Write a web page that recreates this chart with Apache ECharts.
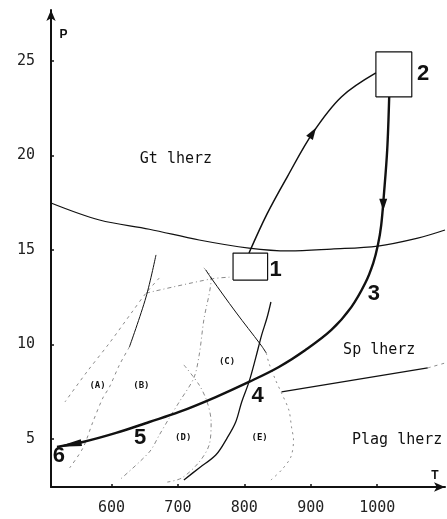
<!DOCTYPE html>
<html>
<head>
<meta charset="utf-8">
<script src="https://cdn.jsdelivr.net/npm/echarts@6/dist/echarts.min.js"></script>
<style>
  html, body { margin: 0; padding: 0; background: #fff; }
  #chart { width: 447px; height: 519px; }
</style>
</head>
<body>
<div id="chart"></div>
<script>
// P-T diagram, T along x, P along y
const tTicks = [600, 700, 800, 900, 1000];
const pTicks = [5, 10, 15, 20, 25];

// field boundaries (solid)
const gtSpBoundary = [[509, 17.49], [582, 16.59], [657, 16.1], [732, 15.53], [807, 15.1], [867, 14.95], [931, 15.05], [1001, 15.21], [1061, 15.63], [1102, 16.06]];
const spPlagBoundary = [[856, 7.49], [1076, 8.76]];
const spPlagDashed = [[1076, 8.76], [1102, 9.02]];

// path 1 -> 2 -> 3 ... 6
const pathUp = [[807, 14.84], [834, 16.9], [865, 18.9], [903, 21.2], [946, 23.1], [998, 24.37]];
const pathDown = [[1018, 23.1], [1015, 20.29], [1010, 17.91], [1006, 16.32], [1001, 15.26], [994, 14.31], [982, 13.25], [961, 11.98], [931, 10.77], [892, 9.71], [852, 8.81], [807, 8.02], [757, 7.22], [702, 6.43], [657, 5.9], [607, 5.32], [557, 4.84], [518, 4.58]];
const box1 = [[783, 13.41], [835, 13.41], [835, 14.84], [783, 14.84], [783, 13.41]];
const box2 = [[998, 23.1], [1052, 23.1], [1052, 25.48], [998, 25.48], [998, 23.1]];

// other solid curves
const curve4 = [[709, 2.83], [732, 3.47], [757, 4.15], [774, 5.05], [787, 5.9], [796, 6.96], [807, 8.02], [817, 9.28], [826, 10.5], [834, 11.4], [840, 12.25]];
const lineB = [[667, 14.74], [652, 12.51], [627, 9.87]];
const lineCright = [[742, 13.94], [750, 13.52], [787, 11.72], [825, 9.97], [833, 9.55]];

// dashed field limits (A)-(E)
const dashA = [[672, 13.52], [652, 12.72], [631, 11.72], [597, 10.08], [563, 8.55], [530, 6.96]];
const dashB = [[627, 9.87], [612, 8.92], [597, 7.75], [587, 7.17], [572, 5.9], [557, 4.52], [537, 3.47]];
const dashTop = [[652, 12.72], [750, 13.47], [781, 13.57]];
const dashCleft = [[739, 14.05], [750, 13.52], [739, 11.3], [732, 9.44], [724, 8.23], [702, 6.96], [687, 6.11], [672, 5.21], [657, 4.31], [612, 2.83]];
const dashDright = [[709, 8.92], [732, 7.86], [744, 6.96], [750, 5.9], [747, 4.68], [732, 3.78], [706, 2.94], [684, 2.72]];
const dashE = [[833, 9.55], [837, 9.02], [847, 8.12], [856, 7.43], [867, 6.53], [871, 5.63], [874, 4.95], [870, 4.05], [856, 3.36], [840, 2.83]];

// arrow heads: [T, P, rotation]
const arrows = [[903, 21.2, -33], [1009, 17.4, 180]];
const endArrow = [[537, 4.7, 100]];

// text
const fieldLabels = [['Gt lherz', 697, 19.81], ['Sp lherz', 1003, 9.71], ['Plag lherz', 1030, 4.95]];
const zoneLabels = [['(A)', 579, 7.8], ['(B)', 645, 7.8], ['(C)', 774, 9.07], ['(D)', 708, 5.05], ['(E)', 823, 5.05]];
const stepLabels = [['1', 847, 13.94], ['2', 1069, 24.31], ['3', 995, 12.67], ['4', 820, 7.27], ['5', 643, 5.05], ['6', 521, 4.1]];
const axisNames = [['P', 528, 26.37], ['T', 1087, 3.04]];

const chart = echarts.init(document.getElementById('chart'));

function solid(data, w) {
  return { type: 'line', data: data, smooth: 0.35, symbol: 'none', silent: true,
    lineStyle: { color: '#111', width: w || 1.2 } };
}
function dashed(data, t) {
  return { type: 'line', data: data, smooth: 0.3, symbol: 'none', silent: true,
    lineStyle: { color: '#8a8a8a', width: 1, type: t || [3, 4] } };
}
function textLayer(list, font) {
  return { type: 'scatter', symbolSize: 0, silent: true, z: 10,
    itemStyle: { opacity: 1 },
    data: list.map(d => ({ name: d[0], value: [d[1], d[2]] })),
    label: Object.assign({ show: true, position: 'inside', formatter: '{b}', color: '#111' }, font) };
}

const mono = 'DejaVu Sans Mono';

chart.setOption({
  animation: false,
  backgroundColor: '#fff',
  grid: { left: 51, right: 2, top: 10, bottom: 32 },
  xAxis: {
    type: 'value', min: 509, max: 1102,
    axisLine: { lineStyle: { color: '#111', width: 2 }, symbol: ['none', 'arrow'], symbolSize: [7, 11] },
    axisTick: { customValues: tTicks, length: 3, inside: true, lineStyle: { color: '#111', width: 1.5 } },
    axisLabel: { customValues: tTicks, margin: 14, color: '#222', fontSize: 15, fontFamily: mono, formatter: v => String(v) },
    splitLine: { show: false }
  },
  yAxis: {
    type: 'value', min: 2.46, max: 27.7,
    axisLine: { show: true, lineStyle: { color: '#111', width: 2 }, symbol: ['none', 'arrow'], symbolSize: [7, 11] },
    axisTick: { show: true, customValues: pTicks, length: 3, inside: true, lineStyle: { color: '#111', width: 1.5 } },
    axisLabel: { customValues: pTicks, margin: 16, color: '#222', fontSize: 15, fontFamily: mono, formatter: v => String(v) },
    splitLine: { show: false }
  },
  series: [
    solid(gtSpBoundary, 1.2),
    solid(spPlagBoundary, 1.2),
    dashed(spPlagDashed),
    dashed(dashA),
    dashed(dashB),
    dashed(dashTop, [4, 3, 1, 3]),
    dashed(dashCleft, [4, 3, 1, 3]),
    dashed(dashDright, [4, 3, 1, 3]),
    dashed(dashE, [2, 4]),
    solid(lineB, 1),
    solid(lineCright, 1),
    solid(curve4, 1.3),
    solid(pathUp, 1.5),
    solid(pathDown, 2.4),
    Object.assign(solid(box1, 1.2), { smooth: false }),
    Object.assign(solid(box2, 1.2), { smooth: false }),
    {
      type: 'scatter', silent: true, z: 5, symbol: 'triangle', symbolSize: [8, 12],
      itemStyle: { color: '#111', opacity: 1 },
      data: arrows.map(a => ({ value: [a[0], a[1]], symbolRotate: a[2] }))
    },
    {
      type: 'scatter', silent: true, z: 5, symbol: 'triangle', symbolSize: [7, 24],
      itemStyle: { color: '#111', opacity: 1 },
      data: endArrow.map(a => ({ value: [a[0], a[1]], symbolRotate: a[2] }))
    },
    textLayer(fieldLabels, { fontSize: 15, fontFamily: mono }),
    textLayer(zoneLabels, { fontSize: 9, fontWeight: 'bold', fontFamily: mono }),
    textLayer(stepLabels, { fontSize: 22, fontWeight: 'bold', fontFamily: 'Liberation Sans' }),
    textLayer(axisNames, { fontSize: 12, fontWeight: 'bold', fontFamily: 'Liberation Sans' })
  ]
});
</script>
</body>
</html>
